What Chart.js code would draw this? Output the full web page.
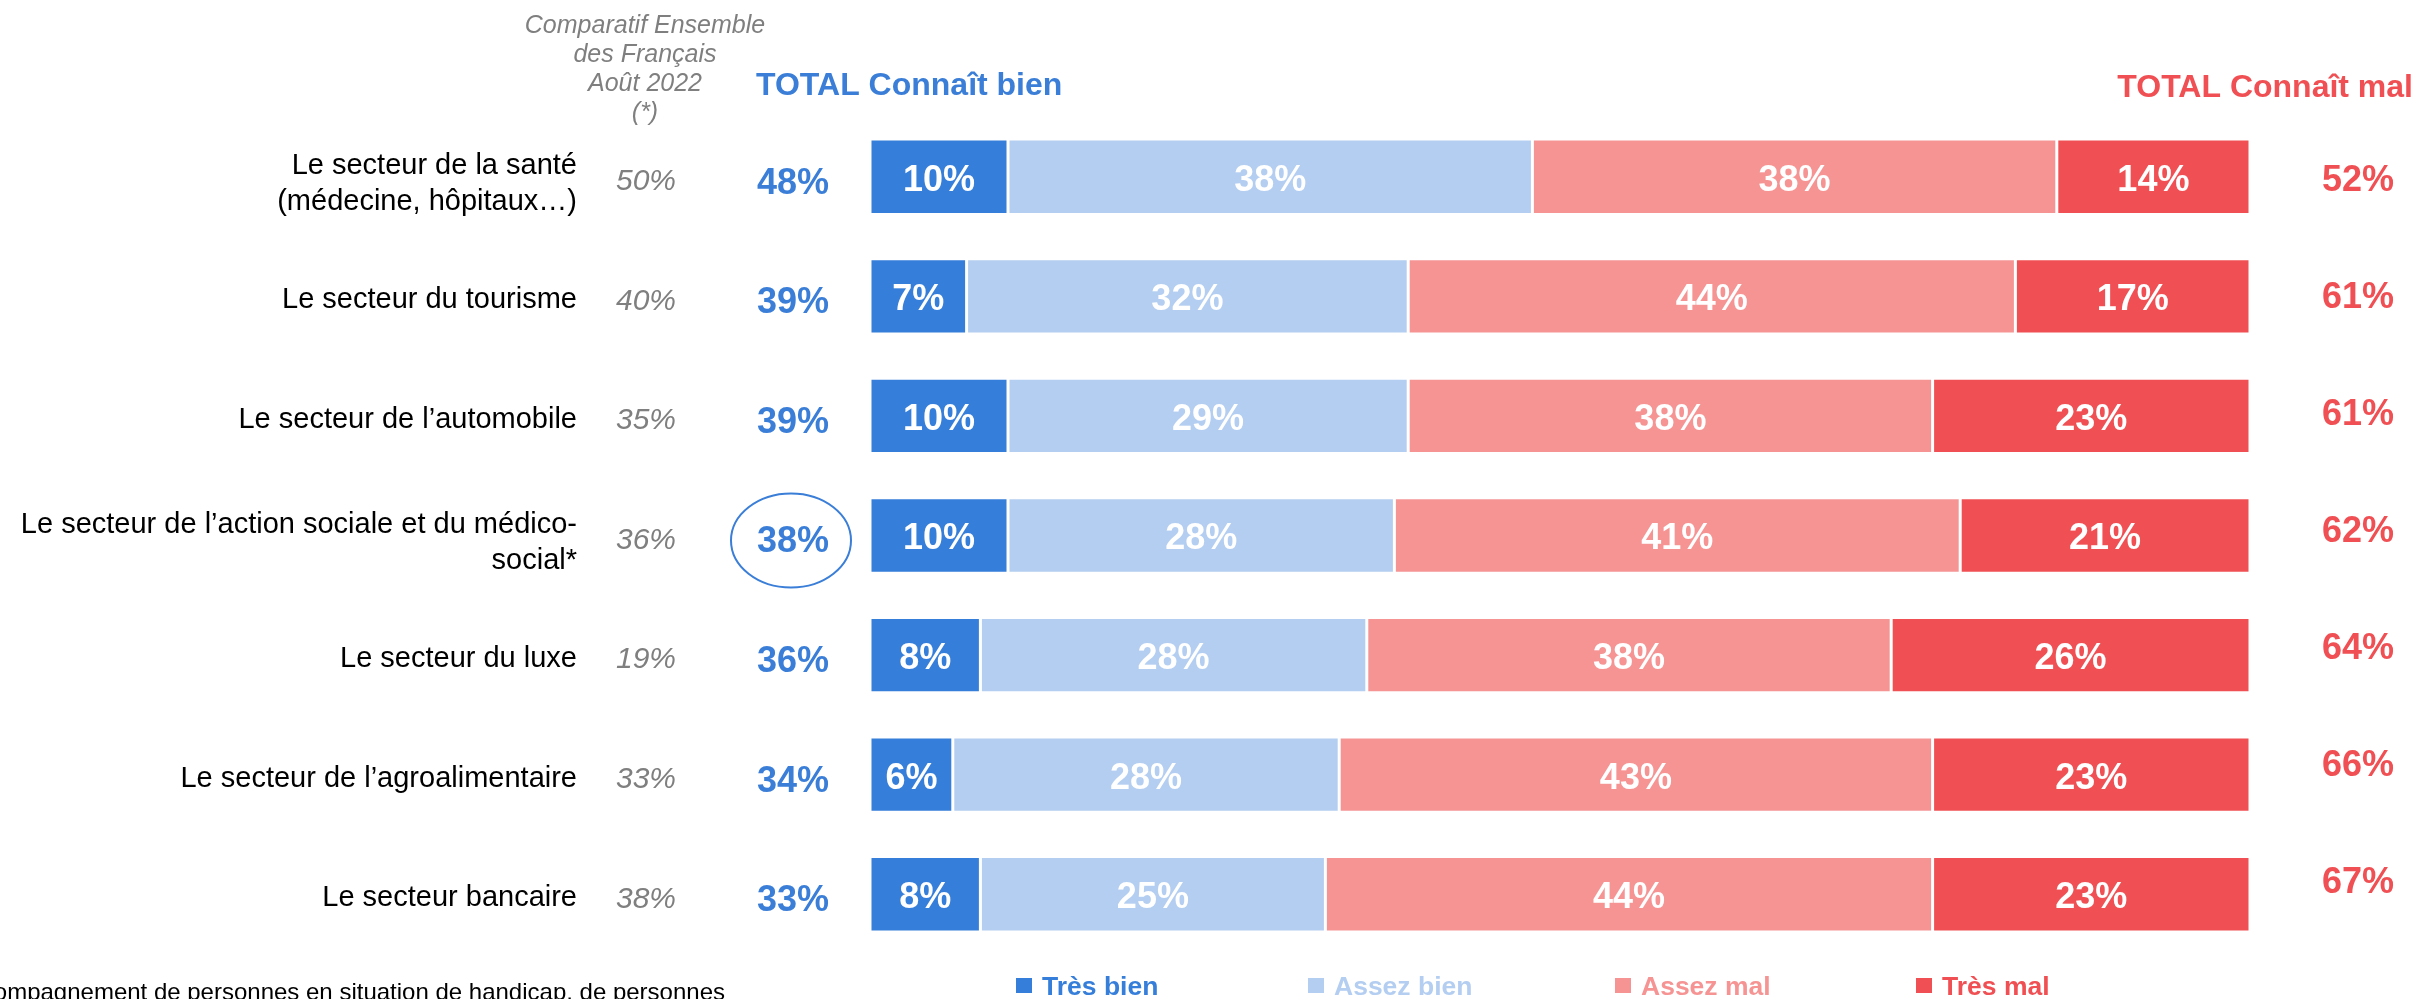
<!DOCTYPE html>
<html>
<head>
<meta charset="utf-8">
<script src="https://cdn.jsdelivr.net/npm/chart.js@4.4.0/dist/chart.umd.min.js"></script>
<style>
  html, body { margin: 0; padding: 0; background: #fff; }
  #wrap { width: 2419px; height: 999px; }
</style>
</head>
<body>
<div id="wrap"><canvas id="sectorChart" width="2419" height="999"></canvas></div>
<script>
// data
const categories = [
    ['Le secteur de la santé', '(médecine, hôpitaux…)'],
    ['Le secteur du tourisme'],
    ['Le secteur de l\u2019automobile'],
    ['Le secteur de l\u2019action sociale et du médico-', 'social*'],
    ['Le secteur du luxe'],
    ['Le secteur de l\u2019agroalimentaire'],
    ['Le secteur bancaire']
];
const comparatif = [50, 40, 35, 36, 19, 33, 38];
const totalBien = [48, 39, 39, 38, 36, 34, 33];
const totalMal = [52, 61, 61, 62, 64, 66, 67];

const tresBien = [10, 7, 10, 10, 8, 6, 8];
const assezBien = [38, 32, 29, 28, 28, 28, 25];
const assezMal = [38, 44, 38, 41, 38, 43, 44];
const tresMal = [14, 17, 23, 21, 26, 23, 23];

const seriesNames = ['Très bien', 'Assez bien', 'Assez mal', 'Très mal'];
const colors = ['#357eda', '#b3cef1', '#f69494', '#f05053'];

const highlightRow = 3; // circled total

const FONT = "'Liberation Sans', Arial, sans-serif";

const overlayPlugin = {
    id: 'overlay',
    afterDatasetsDraw(chart) {
        const ctx = chart.ctx;
        const yScale = chart.scales.y;
        ctx.save();

        // values inside the segments
        ctx.fillStyle = '#fff';
        ctx.font = 'bold 36px ' + FONT;
        ctx.textAlign = 'center';
        ctx.textBaseline = 'middle';
        chart.data.datasets.forEach((ds, di) => {
            chart.getDatasetMeta(di).data.forEach((bar, i) => {
                const cx = (bar.x + bar.base) / 2;
                ctx.fillText(ds.data[i] + '%', cx, bar.y + 4);
            });
        });

        // left labels and side columns
        categories.forEach((lines, i) => {
            const y = yScale.getPixelForValue(i);

            ctx.fillStyle = '#000';
            ctx.font = '29px ' + FONT;
            ctx.textAlign = 'right';
            if (lines.length === 1) {
                ctx.fillText(lines[0], 577, y + 4);
            } else {
                ctx.fillText(lines[0], 577, y - 11);
                ctx.fillText(lines[1], 577, y + 25);
            }

            ctx.fillStyle = '#7f7f7f';
            ctx.font = 'italic 30px ' + FONT;
            ctx.textAlign = 'center';
            ctx.fillText(comparatif[i] + '%', 646, y + 5);

            ctx.fillStyle = '#3a7ed8';
            ctx.font = 'bold 36px ' + FONT;
            ctx.fillText(totalBien[i] + '%', 793, y + 7);

            ctx.fillStyle = '#f05053';
            ctx.fillText(totalMal[i] + '%', 2358, y + 4 - i * 2.6);

            if (i === highlightRow) {
                ctx.strokeStyle = '#3a7ed8';
                ctx.lineWidth = 2;
                ctx.beginPath();
                ctx.ellipse(791, y + 5, 60, 47, 0, 0, Math.PI * 2);
                ctx.stroke();
            }
        });

        // headers
        ctx.fillStyle = '#7f7f7f';
        ctx.font = 'italic 25px ' + FONT;
        ctx.textAlign = 'center';
        ['Comparatif Ensemble', 'des Français', 'Août 2022', '(*)'].forEach((t, k) => {
            ctx.fillText(t, 645, 26 + k * 29);
        });

        ctx.font = 'bold 32px ' + FONT;
        ctx.textAlign = 'left';
        ctx.fillStyle = '#3a7ed8';
        ctx.fillText('TOTAL Connaît bien', 756, 86);
        ctx.textAlign = 'right';
        ctx.fillStyle = '#f05053';
        ctx.fillText('TOTAL Connaît mal', 2413, 88);

        // legend
        const legendX = [1016, 1308, 1615, 1916];
        ctx.textAlign = 'left';
        ctx.textBaseline = 'alphabetic';
        ctx.font = 'bold 26.5px ' + FONT;
        seriesNames.forEach((name, k) => {
            ctx.fillStyle = colors[k];
            ctx.fillRect(legendX[k], 978, 16, 15);
            ctx.fillText(name, legendX[k] + 26, 995);
        });

        // footnote, cut at the left edge
        ctx.fillStyle = '#000';
        ctx.font = '24px ' + FONT;
        ctx.textAlign = 'right';
        ctx.fillText('* Secteur de l\u2019accompagnement de personnes en situation de handicap, de personnes', 725, 1000);

        ctx.restore();
    }
};

const series = [tresBien, assezBien, assezMal, tresMal];

new Chart(document.getElementById('sectorChart').getContext('2d'), {
    type: 'bar',
    data: {
        labels: categories.map(c => c.join(' ')),
        datasets: series.map((values, k) => ({
            label: seriesNames[k],
            data: values,
            backgroundColor: colors[k],
            borderColor: '#ffffff',
            borderWidth: 1.5,
            borderSkipped: false,
            categoryPercentage: 1,
            barPercentage: 0.63
        }))
    },
    options: {
        indexAxis: 'y',
        responsive: false,
        animation: false,
        devicePixelRatio: 1,
        layout: { padding: { left: 870, right: 169, top: 117, bottom: 45 } },
        scales: {
            x: { stacked: true, min: 0, max: 100, display: false },
            y: { stacked: true, display: false }
        },
        plugins: {
            legend: { display: false },
            tooltip: { enabled: false }
        }
    },
    plugins: [overlayPlugin]
});
</script>
</body>
</html>
